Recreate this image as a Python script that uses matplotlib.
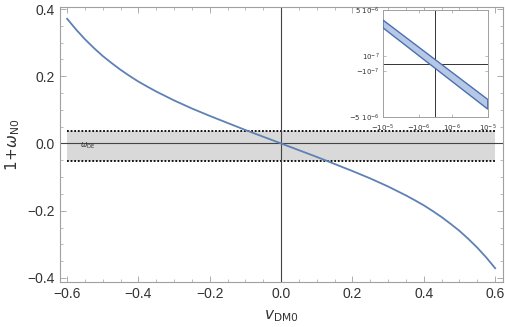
import numpy as np
import matplotlib
matplotlib.use("Agg")
import matplotlib.pyplot as plt
from matplotlib.ticker import FixedLocator, MultipleLocator

# main curve
v_dm0 = [-0.600, -0.575, -0.550, -0.525, -0.500, -0.475, -0.450, -0.425, -0.400, -0.375,
         -0.350, -0.300, -0.250, -0.200, -0.150, -0.100, -0.050, 0.000,
         0.050, 0.100, 0.150, 0.200, 0.250, 0.300, 0.350,
         0.375, 0.400, 0.425, 0.450, 0.475, 0.500, 0.525, 0.550, 0.575, 0.600]
w_n0 = [0.371, 0.339, 0.310, 0.284, 0.260, 0.239, 0.219, 0.201, 0.184, 0.169,
        0.1545, 0.128, 0.104, 0.082, 0.061, 0.040, 0.020, 0.000,
        -0.020, -0.040, -0.061, -0.082, -0.104, -0.128, -0.1545,
        -0.169, -0.184, -0.201, -0.219, -0.239, -0.260, -0.284, -0.310, -0.339, -0.371]

# omega_DE band
band_x = [-0.6, 0.6]
band_lo = -0.053
band_hi = 0.037

# inset band corners (x, y)
inset_x = [-1e-5, 1e-5, 1e-5, -1e-5]
inset_y = [3.31e-6, -2.25e-6, -3.63e-6, 2.23e-6]

blue = "#5e81b5"
frame = "#a0a0a0"
txt = "#333333"

plt.rcParams["font.family"] = ["Liberation Sans", "DejaVu Sans"]
plt.rcParams["mathtext.fontset"] = "dejavusans"

fig = plt.figure(figsize=(5.06, 3.27), dpi=100)
ax = fig.add_axes([0.1186, 0.1376, 0.8755, 0.841])

ax.fill_between(band_x, band_lo, band_hi, color="#d9d9d9", lw=0, zorder=1)
ax.plot(band_x, [band_hi, band_hi], color="black", ls=(0, (1, 1)), lw=1.3, zorder=2)
ax.plot(band_x, [band_lo, band_lo], color="black", ls=(0, (1, 1)), lw=1.3, zorder=2)
ax.axhline(0, color="#444444", lw=0.8, zorder=2)
ax.axvline(0, color="#444444", lw=0.8, zorder=2)
ax.plot(v_dm0, w_n0, color=blue, lw=1.3, zorder=3)
ax.text(-0.565, -0.008, r"$\omega_{\rm DE}$", fontsize=5.5, color=txt, va="center")

ax.set_xlim(-0.62, 0.622)
ax.set_ylim(-0.412, 0.406)
ax.xaxis.set_major_locator(MultipleLocator(0.2))
ax.xaxis.set_minor_locator(MultipleLocator(0.05))
ax.yaxis.set_major_locator(MultipleLocator(0.2))
ax.yaxis.set_minor_locator(MultipleLocator(0.05))
ax.tick_params(which="both", direction="in", top=True, right=True, color=frame,
               labelsize=10, labelcolor=txt)
ax.tick_params(which="major", length=4, width=0.6)
ax.tick_params(which="minor", length=2, width=0.5)
for s in ax.spines.values():
    s.set_color(frame)
    s.set_linewidth(0.8)
ax.set_xlabel(r"$v_{\rm DM0}$", fontsize=11, color=txt, labelpad=5)
ax.set_ylabel(r"$1\!+\!\omega_{\rm N0}$", fontsize=11, color=txt, labelpad=4)


def fwd(v):
    return np.sign(v) * np.sqrt(np.abs(v))


def inv(v):
    return np.sign(v) * v ** 2


ins = fig.add_axes([0.757, 0.642, 0.207, 0.327])
ins.set_xscale("function", functions=(fwd, inv))
ins.set_yscale("function", functions=(fwd, inv))
ins.fill(inset_x, inset_y, facecolor="#b7c8e6", edgecolor="#4a70b0", lw=1.0, zorder=3)
ins.axhline(0, color="#333333", lw=0.7, zorder=2)
ins.axvline(0, color="#333333", lw=0.7, zorder=2)
ins.set_xlim(-1e-5, 1e-5)
ins.set_ylim(-5e-6, 5e-6)
ins.xaxis.set_major_locator(FixedLocator([-1e-5, -1e-6, 1e-6, 1e-5]))
ins.yaxis.set_major_locator(FixedLocator([-5e-6, -1e-7, 1e-7, 5e-6]))
ins.xaxis.set_minor_locator(FixedLocator([]))
ins.yaxis.set_minor_locator(FixedLocator([]))
ins.set_xticklabels([r"$-10^{-5}$", r"$-10^{-6}$", r"$10^{-6}$", r"$10^{-5}$"])
ins.set_yticklabels([r"$-5\ 10^{-6}$", r"$-10^{-7}$", r"$10^{-7}$", r"$5\ 10^{-6}$"])
ins.tick_params(direction="in", top=True, right=True, length=2, width=0.5, color=frame,
                labelsize=5, labelcolor=txt)
ins.tick_params(axis="x", pad=4)
ins.tick_params(axis="y", pad=2.5)
for s in ins.spines.values():
    s.set_color(frame)
    s.set_linewidth(0.7)

fig.savefig("out.png", dpi=100)
